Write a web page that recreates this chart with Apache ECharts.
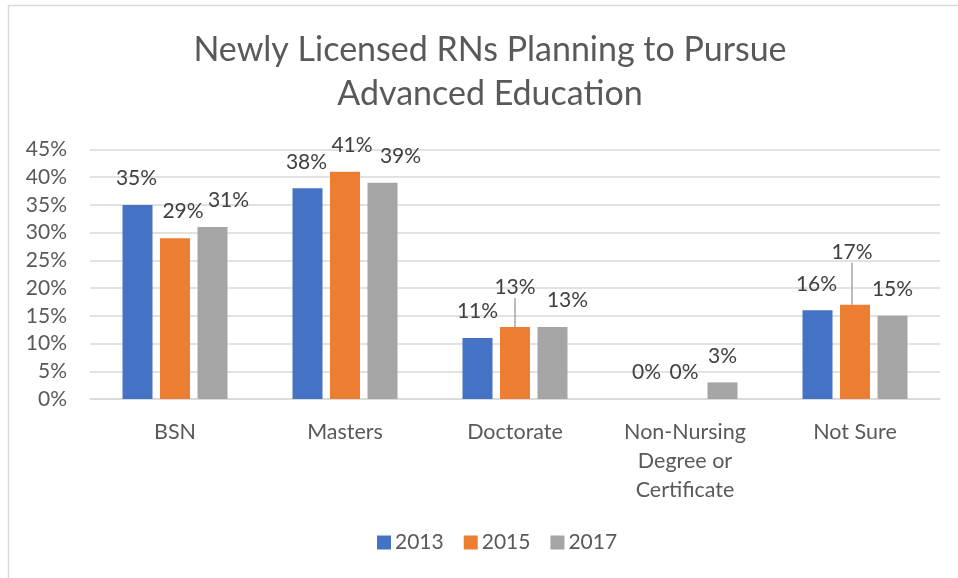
<!DOCTYPE html>
<html>
<head>
<meta charset="utf-8">
<script src="https://cdn.jsdelivr.net/npm/echarts@6/dist/echarts.min.js"></script>
<style>
  html, body { margin: 0; padding: 0; background: #fff; }
  #main { width: 958px; height: 578px; }
</style>
</head>
<body>
<div id="main"></div>
<script>
  // data (percent)
  const categories = ['BSN', 'Masters', 'Doctorate', 'Non-Nursing\nDegree or\nCertificate', 'Not Sure'];
  const years = ['2013', '2015', '2017'];
  const values2013 = [35, 38, 11, 0, 16];
  const values2015 = [29, 41, 13, 0, 17];
  const values2017 = [31, 39, 13, 3, 15];
  const yTicks = { min: 0, max: 45, interval: 5 };

  const colors = ['#4472c4', '#ed7d31', '#a5a5a5'];
  const font = 'Lato, Carlito, "Open Sans", sans-serif';

  // label nudges, like excel moved them (seriesIndex -> per category)
  const labelDx = [
    [-1, -1, 0, -1, -1],
    [8, 7, 0, -1, -3],
    [16, 18, 15, 0, 0]
  ];
  const labelDy = [
    [0, 0, 0, 0, 0],
    [0, 0, -13, 0, -26],
    [0, 0, 0, 0, 0]
  ];
  const leader = [[], [2, 4], []];

  const seriesData = [values2013, values2015, values2017];

  let myChart = echarts.init(document.getElementById('main'));
  myChart.setOption({
    animation: false,
    textStyle: { fontFamily: font },
    title: {
      text: 'Newly Licensed RNs Planning to Pursue\nAdvanced Education',
      left: 485,
      textAlign: 'center',
      top: 23,
      textStyle: {
        fontFamily: font,
        fontWeight: 'normal',
        fontSize: 34,
        lineHeight: 44,
        color: '#595959'
      }
    },
    graphic: [{
      type: 'rect',
      shape: { x: 8.5, y: 5.5, width: 1000, height: 1000 },
      style: { fill: 'none', stroke: '#d9d9d9', lineWidth: 1.5 },
      silent: true
    }],
    legend: {
      bottom: 20,
      left: 372,
      itemWidth: 14,
      itemHeight: 14,
      itemGap: 20,
      icon: 'rect',
      textStyle: { fontFamily: font, fontSize: 21, color: '#595959', padding: [0, 0, 0, -1] },
      data: years
    },
    grid: { left: 90, right: 18, top: 149.5, bottom: 179 },
    xAxis: {
      type: 'category',
      data: categories,
      axisLine: { lineStyle: { color: '#d9d9d9', width: 1.5 } },
      axisTick: { show: false },
      axisLabel: {
        fontFamily: font,
        fontSize: 21.5,
        lineHeight: 29,
        color: '#595959',
        margin: 19,
        interval: 0
      }
    },
    yAxis: {
      type: 'value',
      min: yTicks.min,
      max: yTicks.max,
      interval: yTicks.interval,
      axisLine: { show: false },
      axisTick: { show: false },
      splitLine: { lineStyle: { color: '#d9d9d9', width: 1.5 } },
      axisLabel: {
        fontFamily: font,
        fontSize: 21,
        color: '#595959',
        margin: 23,
        formatter: '{value}%'
      }
    },
    series: years.map(function (y, s) {
      return {
        name: y,
        type: 'bar',
        barWidth: 30,
        barGap: '25%',
        itemStyle: { color: colors[s] },
        label: {
          show: true,
          position: 'top',
          distance: 16,
          fontFamily: font,
          fontSize: 21,
          color: '#404040',
          formatter: '{c}%'
        },
        labelLine: { show: false, lineStyle: { color: '#a6a6a6', width: 1.5 } },
        labelLayout: function (p) {
          return { dx: labelDx[s][p.dataIndex], dy: labelDy[s][p.dataIndex] };
        },
        data: seriesData[s].map(function (v, i) {
          if (leader[s].indexOf(i) >= 0) {
            return { value: v, labelLine: { show: true } };
          }
          return v;
        })
      };
    })
  });
</script>
</body>
</html>
